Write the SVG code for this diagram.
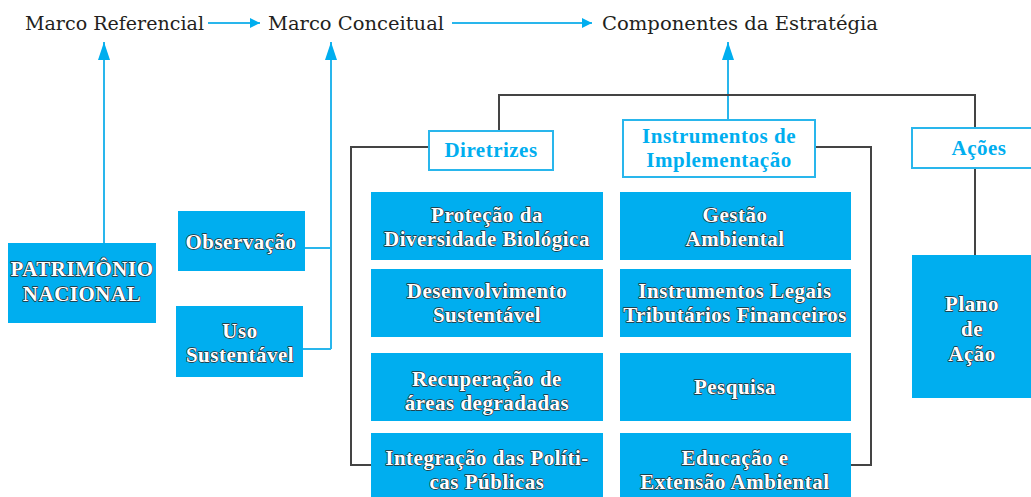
<svg xmlns="http://www.w3.org/2000/svg" width="1031" height="497" viewBox="0 0 1031 497">
<style>
.top{font-family:"DejaVu Serif","Liberation Serif",serif;font-size:19px;fill:#231f20}
.box{fill:#00aeef}
.ob{fill:#fff;stroke:#29b6ec;stroke-width:2}
.wt{font-family:"Liberation Serif",serif;font-weight:bold;font-size:21px;letter-spacing:0.5px;fill:#fff;stroke:#2b2b2b;stroke-width:1.3;paint-order:stroke;text-anchor:middle;stroke-linejoin:round}
.bt{font-family:"Liberation Serif",serif;font-weight:bold;font-size:21px;letter-spacing:0.5px;fill:#00aeef;text-anchor:middle}
.bl{fill:none;stroke:#29b6ec;stroke-width:2}
.dk{fill:none;stroke:#444;stroke-width:2}
</style>
<defs>
<marker id="ah" viewBox="0 0 10 10" refX="10" refY="5" markerWidth="10" markerHeight="10" markerUnits="userSpaceOnUse" orient="auto">
<path d="M0,0 L10,5 L0,10 z" fill="#00aeef"/>
</marker>
<marker id="au" viewBox="0 0 18 12" refX="18" refY="6" markerWidth="18" markerHeight="12" markerUnits="userSpaceOnUse" orient="auto">
<path d="M0,0 L18,6 L0,12 z" fill="#00aeef"/>
</marker>
</defs>
<g id="connectors">
<path class="bl" d="M208,23 H260" marker-end="url(#ah)"/>
<path class="bl" d="M452,23 H592" marker-end="url(#ah)"/>
<path class="bl" d="M104,243 V42" marker-end="url(#au)"/>
<path class="bl" d="M305,248 H331 M303,349 H331 M331,349 V42" marker-end="url(#au)"/>
<path class="bl" d="M728,120 V42" marker-end="url(#au)"/>
<path class="dk" d="M499,130 V95 H975 V128 M975,168 V255"/>
<path class="dk" d="M428,147 H351 V465 H371"/>
<path class="dk" d="M815,147 H871 V465 H851"/>
</g>
<g id="marco-referencial"><text class="top" x="25" y="30" textLength="179" lengthAdjust="spacingAndGlyphs">Marco Referencial</text></g>
<g id="marco-conceitual"><text class="top" x="268" y="30" textLength="176" lengthAdjust="spacingAndGlyphs">Marco Conceitual</text></g>
<g id="componentes"><text class="top" x="602" y="30" textLength="276" lengthAdjust="spacingAndGlyphs">Componentes da Estratégia</text></g>
<g id="patrimonio"><rect class="box" x="8" y="243" width="148" height="80"/>
<text class="wt" x="82" y="276">PATRIMÔNIO</text><text class="wt" x="82" y="301">NACIONAL</text></g>
<g id="observacao"><rect class="box" x="178" y="211" width="127" height="60"/>
<text class="wt" x="241" y="249">Observação</text></g>
<g id="uso"><rect class="box" x="176" y="306" width="127" height="71"/>
<text class="wt" x="240" y="338">Uso</text><text class="wt" x="240" y="362">Sustentável</text></g>
<g id="diretrizes"><rect class="ob" x="429" y="131" width="124" height="39"/>
<text class="bt" x="491" y="157">Diretrizes</text></g>
<g id="instrumentos"><rect class="ob" x="623" y="120" width="192" height="57"/>
<text class="bt" x="719" y="143">Instrumentos de</text><text class="bt" x="719" y="167">Implementação</text></g>
<g id="acoes"><rect class="ob" x="912" y="128" width="125" height="40"/>
<text class="bt" x="979" y="155">Ações</text></g>
<g id="protecao"><rect class="box" x="371" y="192" width="232" height="68"/>
<text class="wt" x="487" y="222">Proteção da</text><text class="wt" x="487" y="246">Diversidade Biológica</text></g>
<g id="desenvolvimento"><rect class="box" x="371" y="269" width="232" height="68"/>
<text class="wt" x="487" y="298">Desenvolvimento</text><text class="wt" x="487" y="322">Sustentável</text></g>
<g id="recuperacao"><rect class="box" x="371" y="353" width="232" height="68"/>
<text class="wt" x="487" y="386">Recuperação de</text><text class="wt" x="487" y="410">áreas degradadas</text></g>
<g id="integracao"><rect class="box" x="371" y="433" width="232" height="64"/>
<text class="wt" x="487" y="465">Integração das Políti-</text><text class="wt" x="487" y="489">cas Públicas</text></g>
<g id="gestao"><rect class="box" x="620" y="192" width="231" height="68"/>
<text class="wt" x="735" y="222">Gestão</text><text class="wt" x="735" y="246">Ambiental</text></g>
<g id="instrumentos-legais"><rect class="box" x="620" y="269" width="231" height="68"/>
<text class="wt" x="735" y="298">Instrumentos Legais</text><text class="wt" x="735" y="322">Tributários Financeiros</text></g>
<g id="pesquisa"><rect class="box" x="620" y="353" width="231" height="68"/>
<text class="wt" x="735" y="394">Pesquisa</text></g>
<g id="educacao"><rect class="box" x="620" y="433" width="231" height="64"/>
<text class="wt" x="735" y="465">Educação e</text><text class="wt" x="735" y="489">Extensão Ambiental</text></g>
<g id="plano"><rect class="box" x="912" y="255" width="119" height="143"/>
<text class="wt" x="972" y="311">Plano</text><text class="wt" x="972" y="336">de</text><text class="wt" x="972" y="361">Ação</text></g>
</svg>
